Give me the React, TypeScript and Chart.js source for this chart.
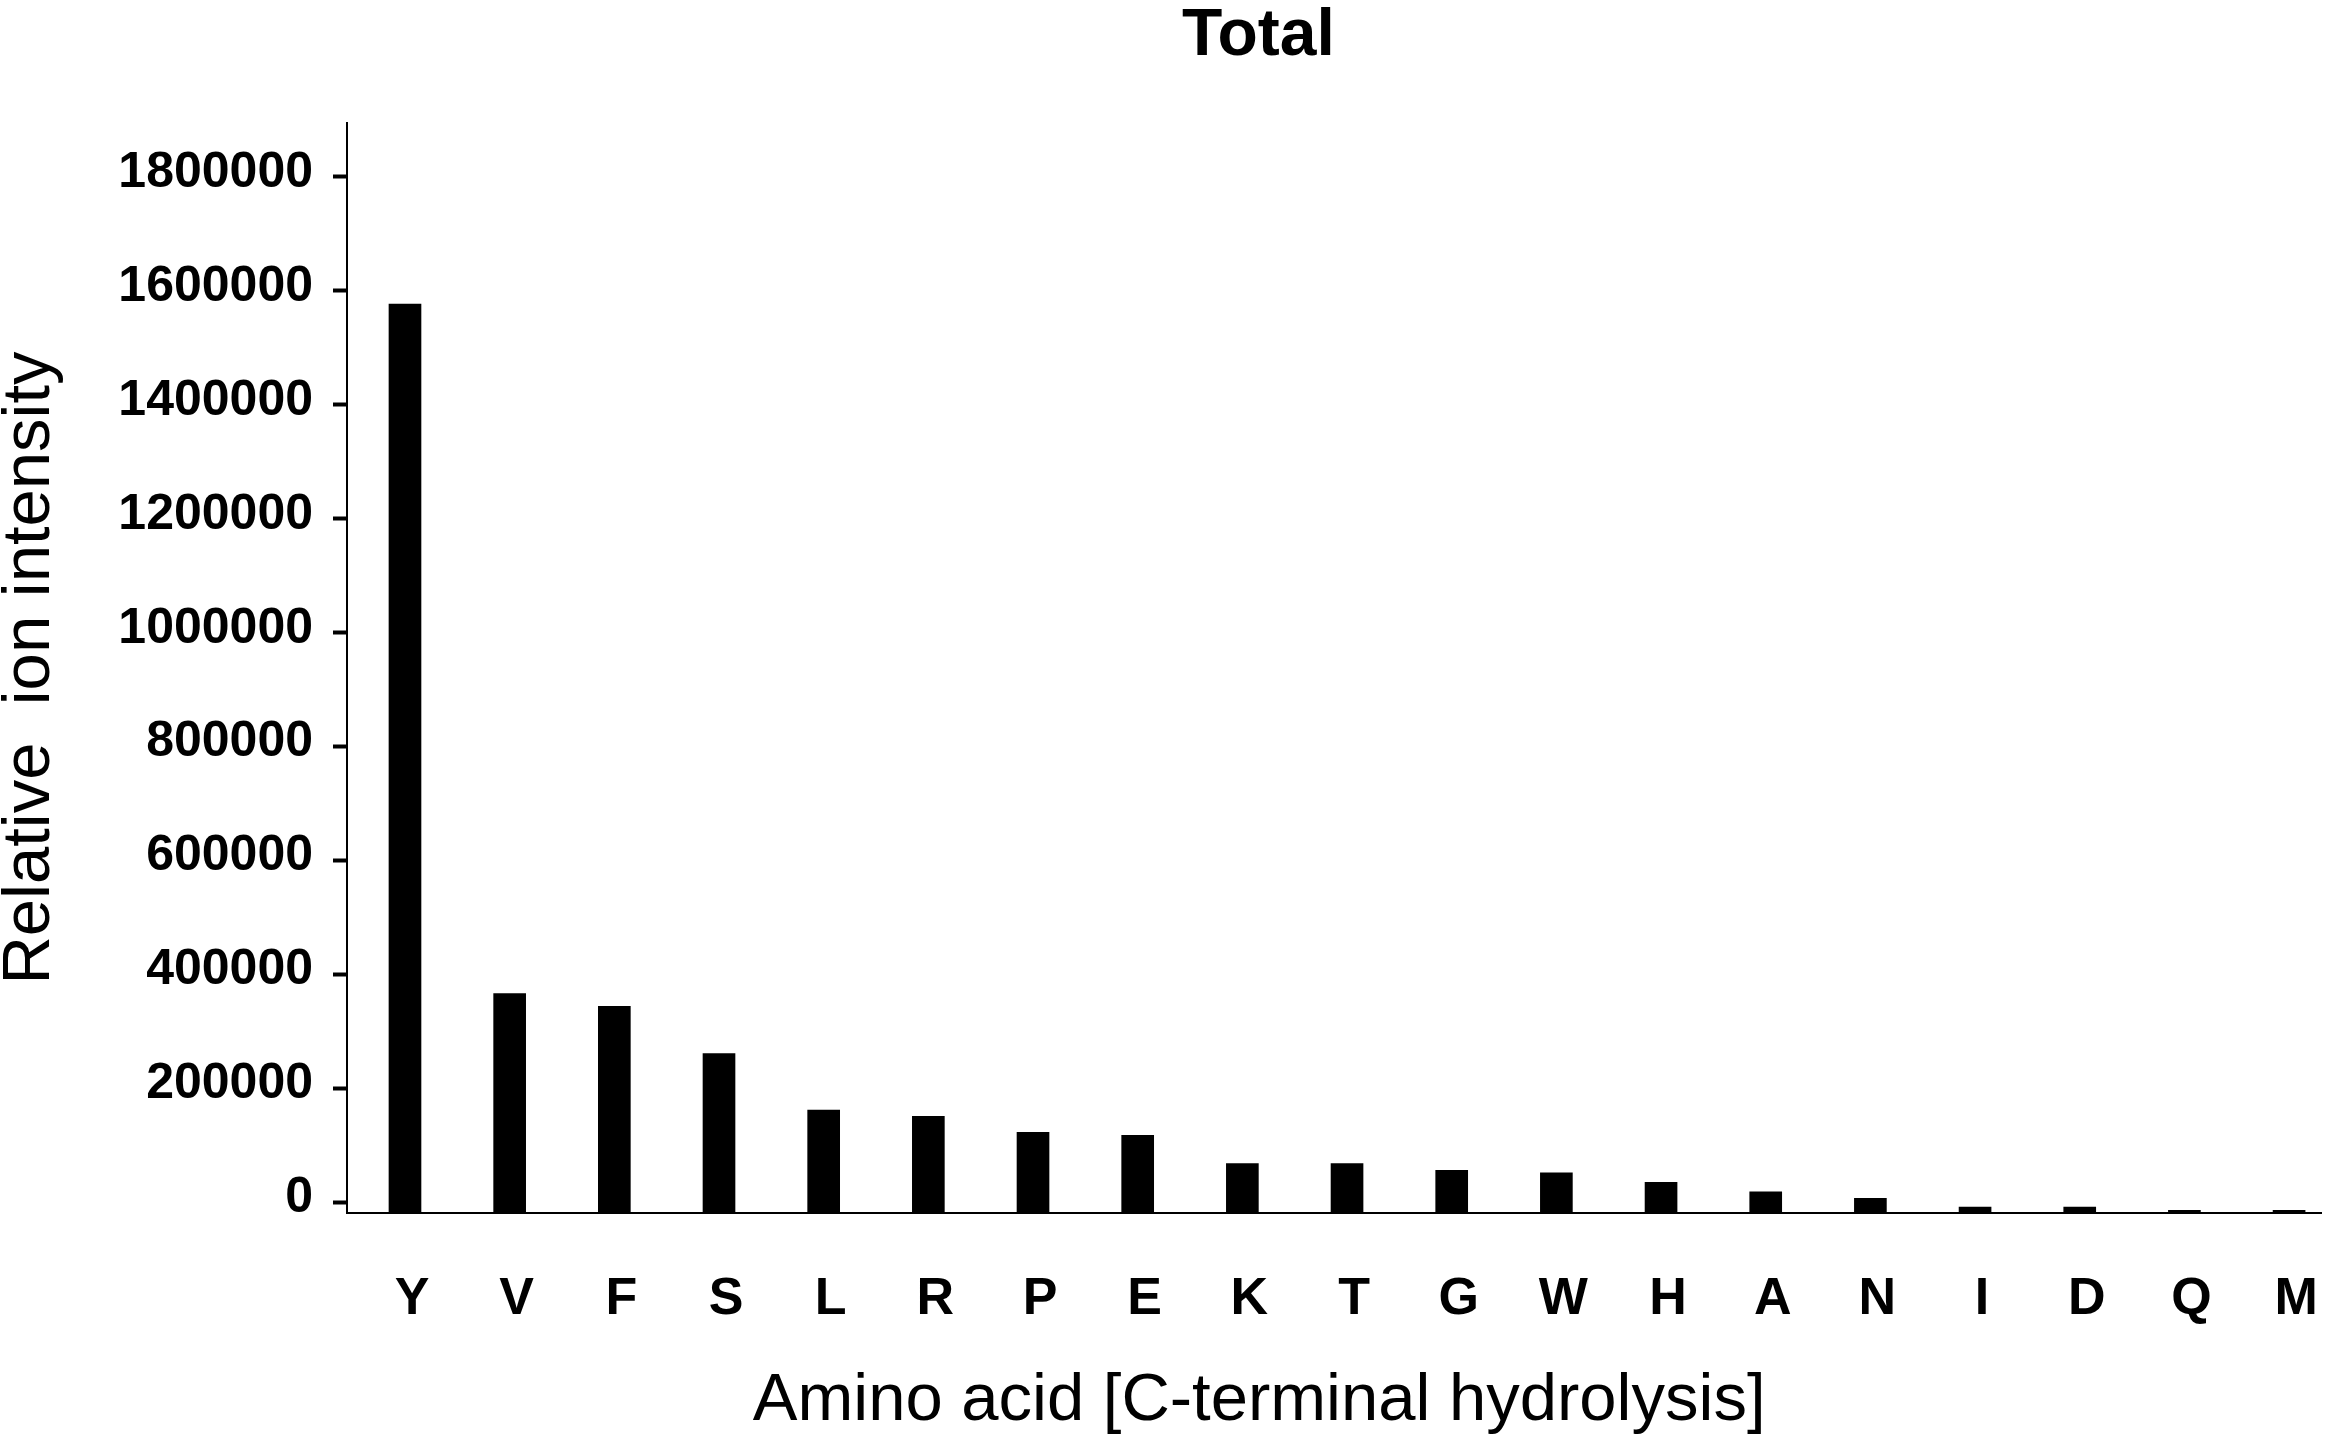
import React, { useEffect, useRef } from "react";
import { Chart, registerables } from "chart.js";

Chart.register(...registerables);

// ---- data ----
const chartTitle = "Total";
const xAxisTitle = "Amino acid [C-terminal hydrolysis]";
const yAxisTitle = "Relative  ion intensity";

const categories = ["Y", "V", "F", "S", "L", "R", "P", "E", "K", "T", "G", "W", "H", "A", "N", "I", "D", "Q", "M"];
const intensities = [
  1577000, 366700, 344400, 261400, 162300, 151400, 123300, 118100, 68400, 68400,
  56700, 52100, 35600, 18800, 7500, -8200, -8200, -13500, -13500,
];

const yTickValues = [0, 200000, 400000, 600000, 800000, 1000000, 1200000, 1400000, 1600000, 1800000];
const yAxisMin = -18400;
const yAxisMax = 1894700;
const xAxisMin = -0.554;
const xAxisMax = 18.305;

const FONT = '"Liberation Sans", Arial, Helvetica, sans-serif';

const extraTextPlugin = {
  id: "extraText",
  afterDraw(chart: any) {
    const ctx = chart.ctx;
    ctx.save();
    ctx.fillStyle = "#000";
    ctx.textAlign = "center";
    ctx.textBaseline = "alphabetic";
    ctx.font = `bold 66px ${FONT}`;
    ctx.fillText(chartTitle, chart.width * 0.5371, 55);
    ctx.font = `67px ${FONT}`;
    ctx.fillText(xAxisTitle, chart.width * 0.5374, chart.height - 22);
    ctx.restore();
  },
};

export default function App() {
  const canvasRef = useRef<HTMLCanvasElement | null>(null);

  useEffect(() => {
    if (!canvasRef.current) return;
    const chart = new Chart(canvasRef.current, {
      type: "bar",
      data: {
        datasets: [
          {
            data: categories.map((_, i) => ({ x: i, y: intensities[i] })),
            backgroundColor: "#000",
            borderWidth: 0,
            barThickness: 32,
            base: yAxisMin,
          } as any,
        ],
      },
      plugins: [extraTextPlugin],
      options: {
        animation: false,
        responsive: true,
        maintainAspectRatio: false,
        devicePixelRatio: 1,
        layout: { padding: { top: 123, right: 22, bottom: 0, left: 0 } },
        plugins: {
          legend: { display: false },
          title: { display: false },
          tooltip: { enabled: false },
        },
        scales: {
          x: {
            type: "linear",
            min: xAxisMin,
            max: xAxisMax,
            offset: false,
            afterBuildTicks: (scale: any) => {
              scale.ticks = categories.map((_, i) => ({ value: i }));
            },
            afterFit: (scale: any) => {
              scale.height = 229;
              scale.paddingLeft = 0;
              scale.paddingRight = 0;
            },
            grid: { display: false, drawTicks: false },
            border: { display: true, color: "#000", width: 2 },
            ticks: {
              autoSkip: false,
              maxRotation: 0,
              padding: 55,
              labelOffset: 7,
              color: "#000",
              font: { family: FONT, size: 52, weight: "bold" },
              callback: (v: any) => categories[Math.round(Number(v))] ?? "",
            },
          },
          y: {
            type: "linear",
            min: yAxisMin,
            max: yAxisMax,
            afterBuildTicks: (scale: any) => {
              scale.ticks = yTickValues.map((v) => ({ value: v }));
            },
            afterFit: (scale: any) => {
              scale.width = 347;
              scale.paddingTop = 0;
              scale.paddingBottom = 0;
            },
            grid: {
              display: true,
              drawOnChartArea: false,
              drawTicks: true,
              tickLength: 14,
              tickWidth: 4,
              tickColor: "#000",
            },
            border: { display: true, color: "#000", width: 2 },
            ticks: {
              padding: 20,
              labelOffset: -4,
              color: "#000",
              font: { family: FONT, size: 50, weight: "bold" },
              callback: (v: any) => String(v),
            },
            title: {
              display: true,
              text: yAxisTitle,
              color: "#000",
              padding: 0,
              font: { family: FONT, size: 67, weight: "normal", lineHeight: 0.91 },
            },
          },
        },
      } as any,
    });
    return () => chart.destroy();
  }, []);

  return (
    <div style={{ position: "fixed", left: 0, top: 0, width: "100vw", height: "100vh", background: "#fff" }}>
      <canvas ref={canvasRef} />
    </div>
  );
}
